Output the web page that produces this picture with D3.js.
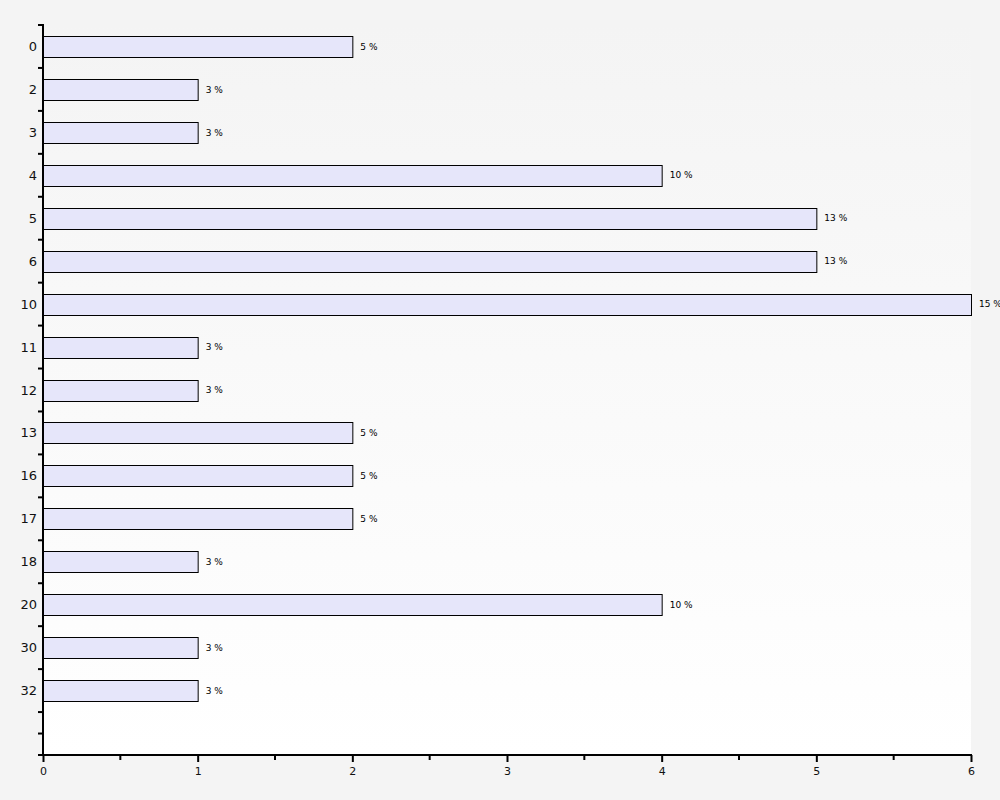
<!DOCTYPE html>
<html><head><meta charset="utf-8">
<script src="https://cdn.jsdelivr.net/npm/d3@7"></script>
<style>body{margin:0;background:#f4f4f4;}svg{display:block;}</style>
</head><body>
<script>
const categories = ["0","2","3","4","5","6","10","11","12","13","16","17","18","20","30","32"];
const values = [2,1,1,4,5,5,6,1,1,2,2,2,1,4,1,1];
const percentLabels = ["5 %","3 %","3 %","10 %","13 %","13 %","15 %","3 %","3 %","5 %","5 %","5 %","3 %","10 %","3 %","3 %"];
const xTicks = [0,1,2,3,4,5,6];

const W = 1000, H = 800;
const m = {l:43, r:29, t:25, b:45};
const svg = d3.select("body").append("svg").attr("width",W).attr("height",H);
const defs = svg.append("defs");
const g0 = defs.append("linearGradient").attr("id","bg").attr("x1",0).attr("y1",0).attr("x2",0).attr("y2",1);
g0.append("stop").attr("offset","0%").attr("stop-color","#f4f4f4");
g0.append("stop").attr("offset","100%").attr("stop-color","#ffffff");

const x = d3.scaleLinear().domain([0,6]).range([m.l, W-m.r]);
const slots = categories.concat(["__blank"]);
const y = d3.scaleBand().domain(slots).range([m.t, H-m.b]).paddingInner(0).paddingOuter(0);

svg.append("rect").attr("x",m.l).attr("y",m.t).attr("width",W-m.r-m.l).attr("height",H-m.b-m.t).attr("fill","url(#bg)");

const bh = 21;
svg.selectAll("rect.bar").data(categories).enter().append("rect")
  .attr("class","bar")
  .attr("x", x(0)+0.5)
  .attr("y", (d)=> Math.round(y(d)+y.bandwidth()/2 - bh/2)+0.5)
  .attr("width", (d,i)=> x(values[i]) - x(0))
  .attr("height", bh)
  .attr("fill","#e6e6fa").attr("stroke","#000").attr("stroke-width",1);

svg.selectAll("text.lbl").data(categories).enter().append("text")
  .attr("class","lbl")
  .attr("x",(d,i)=> x(values[i])+8)
  .attr("y",(d)=> y(d)+y.bandwidth()/2)
  .attr("dy","0.35em")
  .attr("font-family","DejaVu Sans, Verdana, sans-serif").attr("font-size",9).attr("fill","#000")
  .text((d,i)=> percentLabels[i]);

// Y axis
const yAx = svg.append("g");
const bounds = slots.map(s=>y(s)).concat([y.range()[1]]);
const yTickPos = bounds.concat([y("__blank")+y.bandwidth()/2]);
yAx.selectAll("line.t").data(yTickPos).enter().append("line")
  .attr("x1",38).attr("x2",m.l).attr("y1",d=>d).attr("y2",d=>d)
  .attr("stroke","#000").attr("stroke-width",2);
yAx.append("line").attr("x1",m.l).attr("x2",m.l).attr("y1",m.t-1).attr("y2",H-m.b+1).attr("stroke","#000").attr("stroke-width",2);
yAx.selectAll("text").data(categories).enter().append("text")
  .attr("x",37).attr("y",d=>y(d)+y.bandwidth()/2).attr("dy","0.35em")
  .attr("text-anchor","end")
  .attr("font-family","DejaVu Sans, Verdana, sans-serif").attr("font-size",13).attr("fill","#111")
  .text(d=>d);

// X axis
const xAx = svg.append("g").attr("transform",`translate(0,${H-m.b})`);
const axis = d3.axisBottom(x).tickValues(xTicks).tickSize(7).tickFormat(d3.format("d"));
xAx.call(axis);
xAx.select(".domain").remove();
xAx.selectAll(".tick line").attr("stroke","#000").attr("stroke-width",2);
xAx.selectAll(".tick text").attr("font-family","DejaVu Sans, Verdana, sans-serif").attr("font-size",11).attr("fill","#111").attr("dy","0.9em");
const minors = d3.range(0.5,6,1);
xAx.selectAll("line.minor").data(minors).enter().append("line").attr("class","minor")
  .attr("x1",d=>x(d)).attr("x2",d=>x(d)).attr("y1",0).attr("y2",5)
  .attr("stroke","#000").attr("stroke-width",2);
xAx.append("line").attr("x1",m.l-1).attr("x2",W-m.r+1).attr("y1",0).attr("y2",0).attr("stroke","#000").attr("stroke-width",2);
</script>
</body></html>
